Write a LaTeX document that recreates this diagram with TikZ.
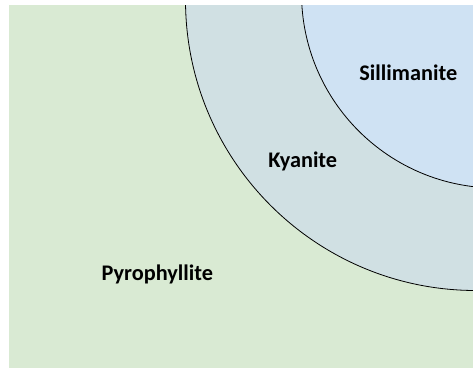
\documentclass[tikz,border=0pt]{standalone}
\usepackage{fontspec}
\setmainfont{Carlito}
\definecolor{bggreen}{HTML}{D9EAD3}
\definecolor{midcyan}{HTML}{D0E0E3}
\definecolor{inblue}{HTML}{CFE2F3}
\begin{document}
\begin{tikzpicture}[x=1pt,y=-1pt,
  zone/.style={draw=black,line width=0.8pt},
  lbl/.style={font=\fontsize{22.3}{25}\selectfont\bfseries,anchor=base,inner sep=0pt}]
\useasboundingbox (0,0) rectangle (473,368);
\begin{scope}
\clip (9,5) rectangle (473,368);
\fill[bggreen] (9,5) rectangle (473,368);
\filldraw[zone,fill=midcyan] (476,0) circle[radius=290.5];
\filldraw[zone,fill=inblue] (496.5,-7) circle[radius=195];
\end{scope}
\node[lbl] (sil) at (408.3,80) {Sillimanite};
\node[lbl] (kya) at (302.8,167.3) {Kyanite};
\node[lbl] (pyr) at (157.3,280.7) {Pyrophyllite};
\end{tikzpicture}
\end{document}
